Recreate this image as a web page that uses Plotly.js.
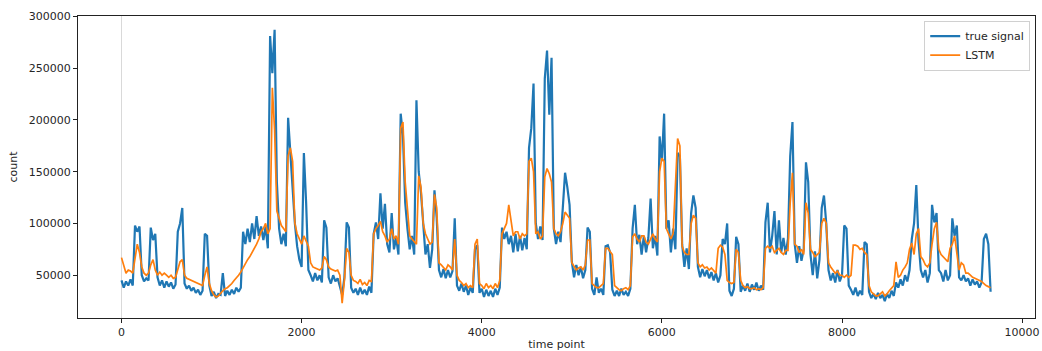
<!DOCTYPE html>
<html>
<head>
<meta charset="utf-8">
<script src="https://cdn.plot.ly/plotly-3.0.1.min.js"></script>
<style>html,body{margin:0;padding:0;background:#fff;}#chart{width:1042px;height:351px;}</style>
</head>
<body>
<div id="chart"></div>
<script>
// time step between samples (time points)
const trueStep = 25;
const lstmStep = 25;

// true signal, in thousands of counts, one value every 25 time points
const trueSignalK = [
  45,38,44,40, 46,40,98,92, 97,50,44,47, 45,96,84,90, 48,40,45,38,
  44,39,43,37, 41,92,100,115, 42,37,40,35, 38,33,36,31, 35,90,88,40,
  30,34,28,32, 31,52,30,35, 31,36,32,38, 34,38,92,80, 95,82,100,85,
  107,88,97,84, 97,76,281,245, 287,140,95,80, 90,78,202,165, 134,100,78,65,
  58,168,120,55, 50,44,52,45, 50,43,103,96, 48,42,50,44, 47,40,31,48,
  101,96,38,33, 37,31,38,32, 36,31,39,33, 90,101,85,129, 95,119,80,72,
  110,75,86,70, 206,185,120,95, 75,88,70,219, 150,130,95,70, 80,57,75,132,
  105,55,48,56, 47,55,48,54, 105,40,35,42, 34,40,31,38, 33,75,79,33,
  37,29,36,30, 35,29,37,31, 38,96,85,92, 80,88,72,90, 73,88,74,86,
  75,173,192,235, 100,85,97,84, 240,267,205,260, 95,80,92,82, 115,149,135,118,
  63,48,60,50, 58,47,55,96, 92,37,31,48, 33,37,31,78, 79,72,36,30,
  35,30,37,31, 34,30,37,95, 118,80,89,70, 88,72,86,124, 76,88,69,184,
  160,206,95,103, 72,95,75,168, 165,80,58,76, 56,110,127,115, 58,48,56,49,
  55,47,53,45, 52,43,50,85, 80,100,35,30, 37,87,80,34, 40,35,42,34,
  41,36,43,35, 40,36,101,120, 72,88,112,70, 103,72,86,70, 85,165,198,80,
  62,78,64,75, 159,140,70,50, 73,47,65,115, 127,100,55,45, 52,43,55,44,
  50,98,95,40, 36,31,38,30, 35,31,82,80, 34,28,32,27, 33,28,31,25,
  32,28,35,30, 43,38,46,40, 50,44,55,85, 100,137,82,55, 48,55,43,52,
  118,101,110,55, 52,44,55,45, 50,105,88,98, 48,45,50,44, 47,40,46,41,
  44,38,43,85, 90,80,34
];

// LSTM prediction, in thousands of counts, one value every 25 time points
const lstmK = [
  67,58,52,55, 54,52,68,80, 72,58,52,50, 52,60,65,55, 50,53,50,52,
  50,48,50,47, 48,55,63,65, 50,47,46,45, 44,43,42,41, 40,50,58,42,
  35,31,29,30, 33,35,37,38, 40,42,45,47, 50,53,57,62, 65,68,72,75,
  80,85,92,95, 100,90,95,231, 190,112,105,98, 95,92,165,173, 160,100,90,85,
  80,88,82,78, 62,58,57,56, 55,57,68,65, 58,56,55,54, 55,50,23,45,
  76,72,50,45, 44,42,46,41, 43,40,45,44, 90,95,98,102, 92,88,82,85,
  95,85,88,80, 192,198,140,110, 88,85,82,80, 146,135,100,90, 85,80,82,128,
  115,62,60,57, 55,60,58,55, 85,50,45,43, 40,42,38,40, 38,80,85,42,
  40,37,42,38, 40,37,42,38, 45,90,95,100, 118,105,88,92, 92,85,90,88,
  90,160,163,150, 90,92,85,88, 145,153,148,140, 95,90,88,92, 100,111,108,105,
  62,58,55,57, 58,55,60,84, 84,42,40,38, 38,40,42,76, 76,73,70,40,
  38,36,35,37, 38,36,40,87, 90,85,82,88, 88,82,80,85, 90,85,82,150,
  163,160,95,90, 85,90,130,182, 175,78,72,70, 70,100,108,105, 62,58,60,57,
  58,55,57,54, 52,76,79,77, 70,45,43,42, 43,75,72,45, 40,38,39,37,
  37,38,36,37, 36,38,76,78, 76,78,72,74, 76,72,70,74, 74,120,149,80,
  78,72,75,70, 120,110,75,72, 68,70,72,100, 105,100,62,58, 55,52,54,50,
  50,48,50,48, 50,79,79,78, 75,76,72,70, 40,34,32,30, 30,32,34,30,
  32,35,38,40, 63,48,50,55, 58,62,75,81, 70,90,95,68, 65,60,58,62,
  80,95,101,75, 70,68,65,63, 76,80,88,70, 55,62,60,52, 52,50,48,47,
  46,45,44,42, 40,39,38
];

const xTicks = [0, 2000, 4000, 6000, 8000, 10000];
const yTicks = [50000, 100000, 150000, 200000, 250000, 300000];

const trueX = trueSignalK.map((_, i) => i * trueStep);
const trueY = trueSignalK.map(v => v * 1000);
const lstmX = lstmK.map((_, i) => i * lstmStep);
const lstmY = lstmK.map(v => v * 1000);

const font = {family: 'DejaVu Sans, sans-serif', size: 11, color: '#262626'};

const traces = [
  {x: trueX, y: trueY, type: 'scatter', mode: 'lines', name: 'true signal',
   line: {color: '#1f77b4', width: 2.2}},
  {x: lstmX, y: lstmY, type: 'scatter', mode: 'lines', name: 'LSTM',
   line: {color: '#ff7f0e', width: 1.7}}
];

const layout = {
  width: 1042, height: 351,
  margin: {l: 78, r: 7, t: 16, b: 33},
  paper_bgcolor: '#fff', plot_bgcolor: '#fff',
  font: font,
  showlegend: true,
  legend: {x: 0.995, y: 0.985, xanchor: 'right', yanchor: 'top',
           bgcolor: 'rgba(255,255,255,0.8)', bordercolor: '#d0d0d0', borderwidth: 1,
           font: {family: 'DejaVu Sans, sans-serif', size: 11, color: '#262626'},
           tracegroupgap: 0},
  xaxis: {
    range: [-483, 10143], tickvals: xTicks, ticktext: xTicks.map(String),
    showgrid: false, zeroline: false, showline: true, mirror: true,
    linecolor: '#222', linewidth: 1, ticks: 'outside', ticklen: 4, tickcolor: '#222',
    automargin: false,
    title: {text: 'time point', font: font, standoff: 4}
  },
  yaxis: {
    range: [8700, 300300], tickvals: yTicks, ticktext: yTicks.map(String),
    showgrid: false, zeroline: false, showline: true, mirror: true,
    linecolor: '#222', linewidth: 1, ticks: 'outside', ticklen: 4, tickcolor: '#222',
    automargin: false,
    title: {text: 'count', font: font, standoff: 8}
  },
  shapes: [{type: 'line', xref: 'x', yref: 'paper', x0: 0, x1: 0, y0: 0, y1: 1,
            line: {color: '#d9d9d9', width: 1}, layer: 'below'}]
};

Plotly.newPlot('chart', traces, layout, {displayModeBar: false, staticPlot: true});
</script>
</body>
</html>
